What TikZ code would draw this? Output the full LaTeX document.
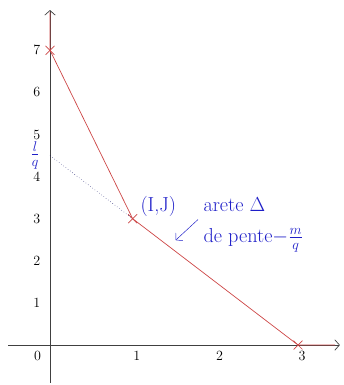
\documentclass[tikz,border=0pt]{standalone}
\usetikzlibrary{positioning,arrows.meta,shapes.misc}
\definecolor{bordrouge}{RGB}{205,70,70}
\definecolor{bleuplan}{RGB}{30,30,200}
\begin{document}
\begin{tikzpicture}[x=2.48cm,y=1.263cm,>={Straight Barb[length=4pt,width=9pt]},
  axe/.style={draw=black!75,semithick},
  bord/.style={draw=bordrouge,semithick},
  marque/.style={cross out,draw=bordrouge,semithick,minimum size=7pt,inner sep=0pt},
  graduation/.style={font=\large,inner sep=1pt},
  etiquette/.style={text=bleuplan,font=\LARGE,inner sep=1pt}]

  \useasboundingbox (-0.605,-0.95) rectangle (3.555,8.195);

  % axes
  \coordinate (xmin) at (-0.508,0);
  \coordinate (xmax) at (3.507,0);
  \coordinate (ymin) at (0,-0.9);
  \coordinate (ymax) at (0,7.957);
  \draw[axe,->] (xmin) -- (xmax);
  \draw[axe,->] (ymin) -- (ymax);

  % graduations
  \foreach \y in {1,...,7}
    \node[graduation] (gy\y) at (-0.16,\y) {\y};
  \node[graduation] (gx0) at (-0.15,-0.25) {0};
  \foreach \x in {1,2,3}
    \node[graduation] (gx\x) at (\x+0.05,-0.25) {\x};

  % sommets
  \node[marque] (A) at (0,7) {};
  \node[marque] (B) at (1,3) {};
  \node[marque] (C) at (3,0) {};
  \coordinate (L) at (0,4.5);

  \draw[bord] (0,7.9) -- (A.center) -- (B.center) -- (C.center) -- (3.45,0);
  \draw[dotted,bleuplan!50!black] (L) -- (B.center);

  % textes
  \node[etiquette] (lq) at (-0.18,4.5) {$\frac{l}{q}$};
  \node[etiquette] (IJ) at (1.31,3.28) {(I,J)};
  \node[etiquette,anchor=west,align=left] (arete) at (1.84,2.85)
    {arete $\Delta$\\[4pt]de pente$-\frac{m}{q}$};
  \coordinate (queue) at (1.79,2.98);
  \coordinate (pointe) at (1.52,2.49);
  \draw[->,bleuplan] (queue) -- (pointe);
\end{tikzpicture}
\end{document}
